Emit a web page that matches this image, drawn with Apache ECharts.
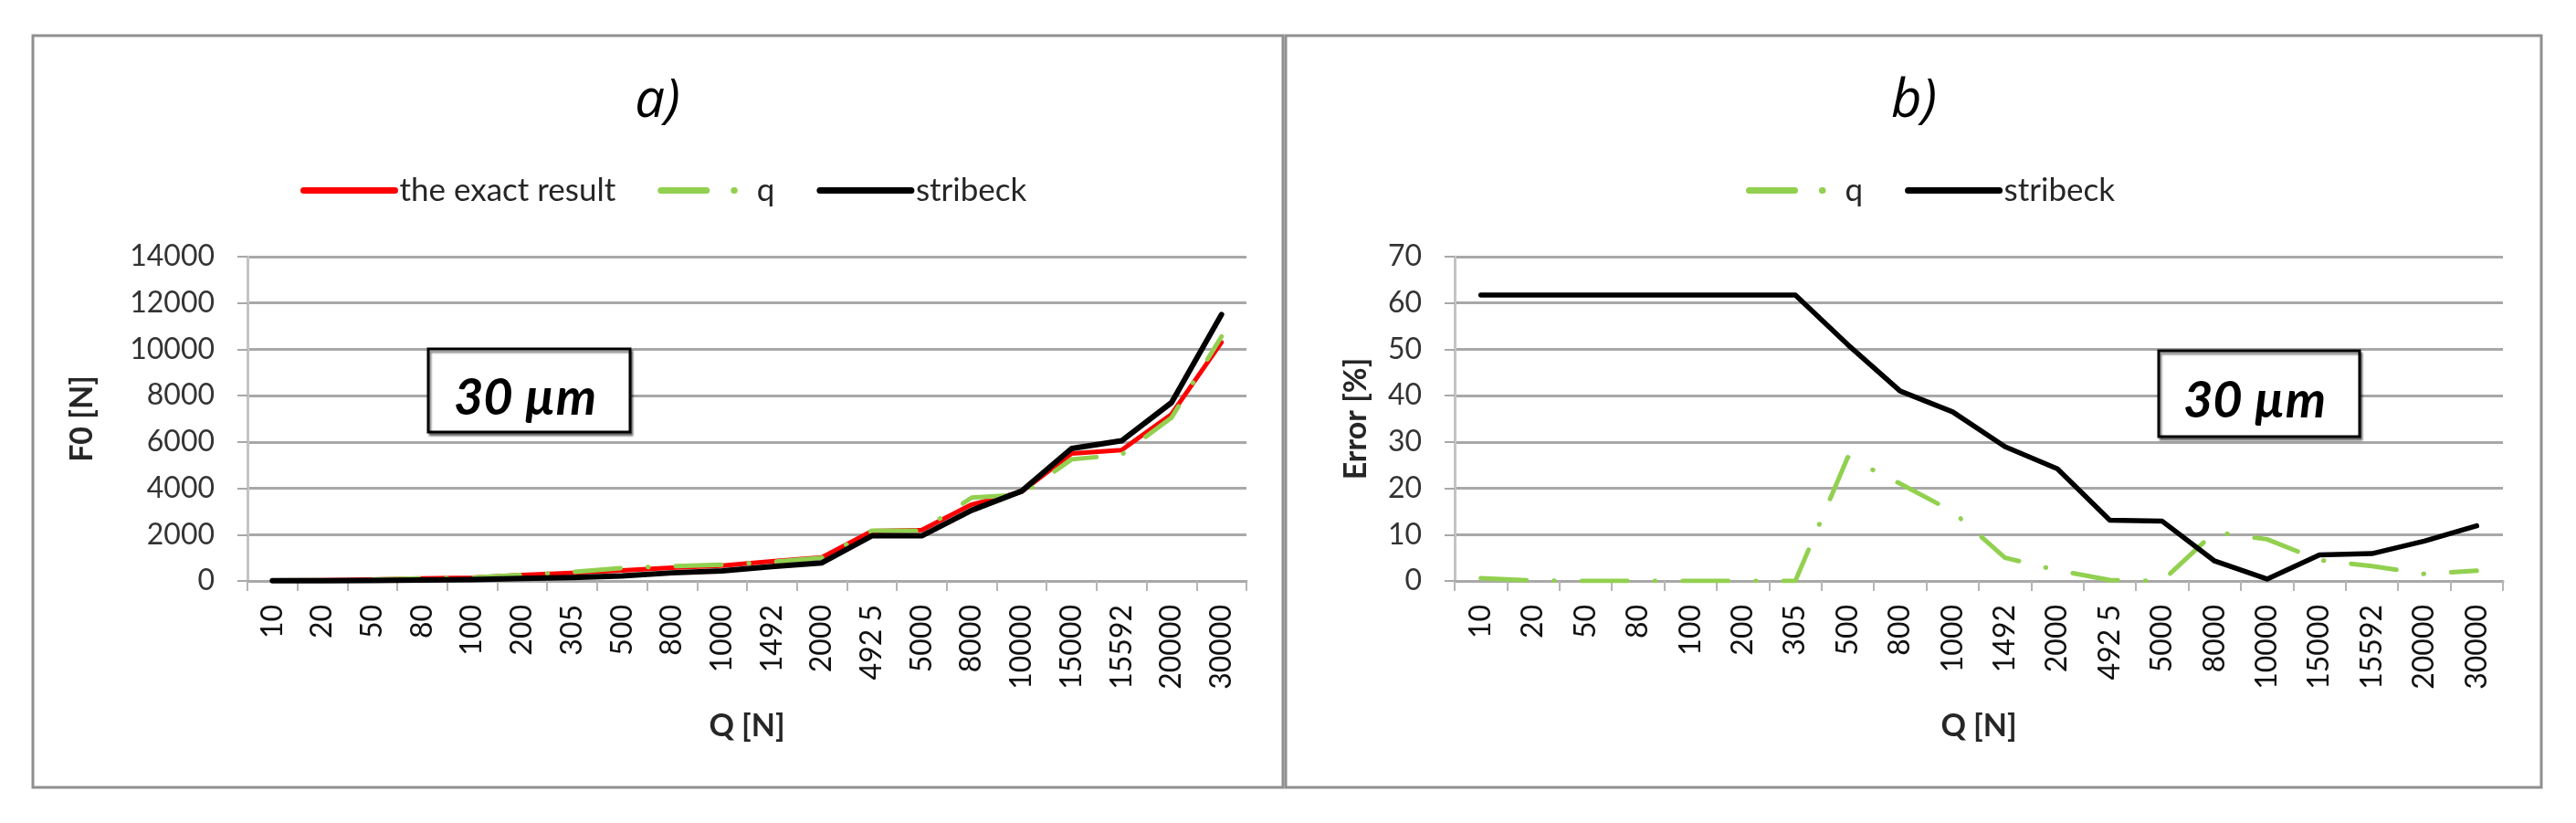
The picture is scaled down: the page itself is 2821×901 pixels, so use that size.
<!DOCTYPE html>
<html><head><meta charset="utf-8">
<script src="https://cdn.jsdelivr.net/npm/echarts@6/dist/echarts.min.js"></script>
<style>html,body{margin:0;padding:0;background:#fff}#c{width:2821px;height:901px}</style>
</head><body><div id="c"></div>
<script>
// ---- data ----
const categories = ['10','20','50','80','100','200','305','500','800','1000','1492','2000','492 5','5000','8000','10000','15000','15592','20000','30000'];
const exactF = [15,30,60,110,140,260,350,450,575,660,850,1020,2150,2200,3300,3850,5500,5650,7200,10300];
const qF = [15,30,60,110,140,260,380,560,640,700,820,1000,2170,2170,3600,3720,5250,5450,7050,10550];
const stribeckF = [8,12,20,40,55,110,150,220,350,430,620,780,1950,1950,3050,3880,5720,6050,7700,11500];
const qErr = [0.6,0.1,0,0,0,0,0,26.7,21.0,15.0,5.0,2.3,0.2,0,10.5,9.0,4.5,3.2,1.5,2.2];
const stribeckErr = [61.7,61.7,61.7,61.7,61.7,61.7,61.7,51.0,41.0,36.5,29.0,24.2,13.1,12.9,4.3,0.4,5.6,5.9,8.6,11.9];
const forceTicks = {min:0, max:14000, interval:2000};
const errorTicks = {min:0, max:70, interval:10};
const titles = ['a)','b)'];
const seriesNames = ['the exact result','q','stribeck'];
const xName = 'Q [N]';
const yNames = ['F0 [N]','Error [%]'];
const boxLabel = '30 µm';

// ---- styles ----
const RED = '#ff0000', GREEN = '#92d050', BLACK = '#000000';
const GRID_C = '#a8a8a8';
const qDash = [50, 30, 0.5, 30];
const FONT = 'Lato';

function lineSeries(name, data, color, width, xi, dash, z) {
  return {
    name, type:'line', xAxisIndex:xi, yAxisIndex:xi, data,
    symbol:'none', showSymbol:false, color, z,
    lineStyle:{color, width, type: dash || 'solid', cap:'round', join:'round'},
    itemStyle:{color},
    emphasis:{disabled:true}, animation:false
  };
}
function xAxis(gi) {
  return {
    type:'category', gridIndex:gi, data:categories, boundaryGap:true,
    name:xName, nameLocation:'middle', nameGap:142,
    nameTextStyle:{fontFamily:FONT, fontWeight:'bold', fontSize:34, color:'#262626'},
    axisLine:{show:true, lineStyle:{color:GRID_C, width:3}},
    axisTick:{show:true, length:11, inside:false, lineStyle:{color:'#b5b5b5', width:2}},
    axisLabel:{interval:0, rotate:90, margin:26, fontFamily:FONT, fontSize:32, color:'#111'},
    splitLine:{show:false}
  };
}
function yAxis(gi, ticks, name, gap) {
  return {
    type:'value', gridIndex:gi, min:ticks.min, max:ticks.max, interval:ticks.interval,
    name, nameLocation:'middle', nameRotate:90, nameGap:gap,
    nameTextStyle:{fontFamily:FONT, fontWeight:'bold', fontSize:34, color:'#262626'},
    axisLine:{show:true, lineStyle:{color:'#c4c4c4', width:3}},
    axisTick:{show:true, length:11, lineStyle:{color:GRID_C, width:2}},
    axisLabel:{margin:36, fontFamily:FONT, fontSize:32, color:'#333', formatter:v => String(v)},
    splitLine:{show:true, lineStyle:{color:GRID_C, width:3}}
  };
}
function legend(left, names) {
  return {
    data:names, left, top:186, orient:'horizontal',
    itemWidth:100, itemHeight:20, itemGap:46,
    textStyle:{fontFamily:FONT, fontSize:35, color:'#262626'},
    itemStyle:{opacity:0},
    lineStyle:{width:7},
    selectedMode:false
  };
}
function box(cx, x, y, w, h) {
  return [
    {type:'rect', silent:true, z:50, shape:{x, y, width:w, height:h},
     style:{fill:'#fff', stroke:'#000', lineWidth:3, shadowColor:'rgba(0,0,0,0.45)', shadowOffsetX:2, shadowOffsetY:3, shadowBlur:2}},
    {type:'text', silent:true, z:51, x:cx, y:y + h/2 + 8,
     style:{text:boxLabel, font:'italic bold 56px Lato', fill:'#000', textAlign:'center', textVerticalAlign:'middle'}}
  ];
}

const option = {
  backgroundColor:'#fff',
  animation:false,
  grid:[
    {left:271, top:281, width:1094, height:355, outerBoundsMode:'none', containLabel:false},
    {left:1593, top:281, width:1148, height:355, outerBoundsMode:'none', containLabel:false}
  ],
  xAxis:[xAxis(0), xAxis(1)],
  yAxis:[yAxis(0, forceTicks, yNames[0], 164), yAxis(1, errorTicks, yNames[1], 91)],
  legend:[legend(324, seriesNames), legend(1907, seriesNames.slice(1))],
  series:[
    lineSeries(seriesNames[0], exactF, RED, 5, 0, null, 2),
    lineSeries(seriesNames[1], qF, GREEN, 5, 0, qDash, 3),
    lineSeries(seriesNames[2], stribeckF, BLACK, 6, 0, null, 4),
    lineSeries(seriesNames[1], qErr, GREEN, 5, 1, qDash, 3),
    lineSeries(seriesNames[2], stribeckErr, BLACK, 5.5, 1, null, 4)
  ],
  graphic:[
    {type:'rect', silent:true, z:-10, shape:{x:36, y:39, width:1369, height:823}, style:{fill:'none', stroke:'#8f8f8f', lineWidth:3}},
    {type:'rect', silent:true, z:-10, shape:{x:1408, y:39, width:1375, height:823}, style:{fill:'none', stroke:'#8f8f8f', lineWidth:3}},
    {type:'text', silent:true, x:720, y:111, style:{text:titles[0], font:'italic 58px "Open Sans"', fill:'#000', textAlign:'center', textVerticalAlign:'middle'}},
    {type:'text', silent:true, x:2096, y:111, style:{text:titles[1], font:'italic 58px "Open Sans"', fill:'#000', textAlign:'center', textVerticalAlign:'middle'}},
    ...box(575, 469, 382, 221, 91),
    ...box(2469, 2364, 384, 220, 94)
  ]
};
const chart = echarts.init(document.getElementById('c'), null, {renderer:'canvas'});
chart.setOption(option);
</script>
</body></html>
